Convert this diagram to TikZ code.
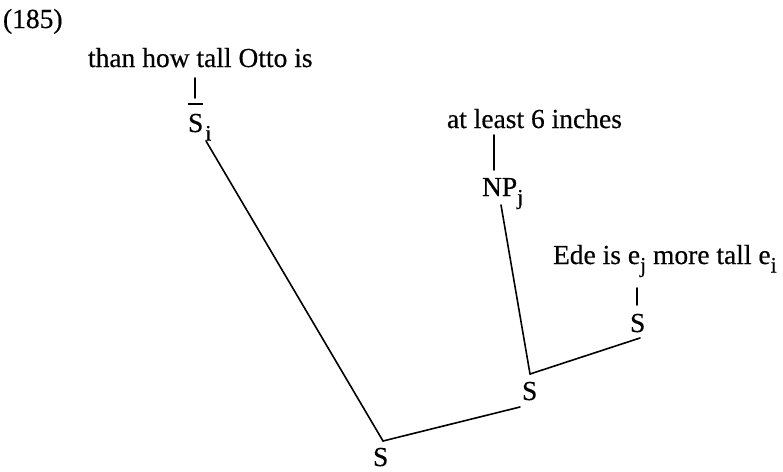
\documentclass[tikz,border=0pt]{standalone}
\usepackage{fontspec}
\setmainfont{Liberation Serif}[FakeBold=0.4]
\newcommand{\sbx}[1]{\raisebox{-8.5pt}{\fontsize{22}{22}\selectfont #1}}
\begin{document}
\begin{tikzpicture}[x=1pt,y=-1pt,
  every node/.style={inner sep=0pt, outer sep=0pt, anchor=base west,
    font=\fontsize{27.5}{30}\selectfont},
  branch/.style={line width=1.6pt, line cap=round}]
\useasboundingbox[fill=white] (0,0) rectangle (783,471);
% labels
\node (num)   at (3,28)    {(185)};
\node (t1)    at (88,67)   {than how tall Otto is};
\node (sbar)  at (188,132) {S\rlap{\hspace{2pt}\sbx{i}}};
\node (t2)    at (447,128) {at least 6 inches};
\node (np)    at (482,196) {NP\rlap{\sbx{j}}};
\node (t3)    at (553,264) {Ede is e\sbx{j} more tall e\sbx{i}};
\node (s3)    at (630,332) {S};
\node (s2)    at (522,400) {S};
\node (s1)    at (373,466) {S};
% attachment points
\coordinate (t1-dn)   at (195,78);
\coordinate (sbar-up) at (195,98);
\coordinate (bar-l)   at (188,104);
\coordinate (bar-r)   at (203,104);
\coordinate (sbar-dn) at (206,141);
\coordinate (t2-dn)   at (494,135);
\coordinate (np-up)   at (494,170);
\coordinate (np-dn)   at (501,205);
\coordinate (t3-dn)   at (637,288);
\coordinate (s3-up)   at (637,305);
\coordinate (s3-dn)   at (640,338);
\coordinate (s2-up)   at (530,374);
\coordinate (s2-dn)   at (520,407);
\coordinate (s1-up)   at (383,441);
% bar over S
\draw[line width=1.8pt] (bar-l) -- (bar-r);
% branches
\draw[branch] (t1-dn) -- (sbar-up);
\draw[branch] (t2-dn) -- (np-up);
\draw[branch] (t3-dn) -- (s3-up);
\draw[branch] (sbar-dn) -- (s1-up);
\draw[branch] (s1-up) -- (s2-dn);
\draw[branch] (s2-up) -- (np-dn);
\draw[branch] (s2-up) -- (s3-dn);
\end{tikzpicture}
\end{document}
